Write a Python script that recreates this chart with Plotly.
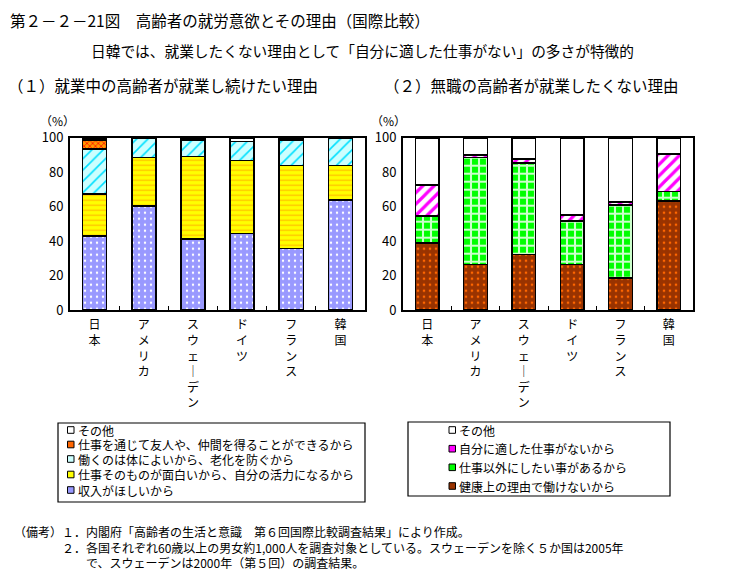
import plotly.graph_objects as go

W, H = 731, 587
OFF = 8  # page body margin offset compensation

# ---------------- data ----------------
countries = ["日本", "アメリカ", "スウェーデン", "ドイツ", "フランス", "韓国"]

# (1) reasons to keep working (bottom -> top)
left_names = [
    "収入がほしいから",
    "仕事そのものが面白いから、自分の活力になるから",
    "働くのは体によいから、老化を防ぐから",
    "仕事を通じて友人や、仲間を得ることができるから",
    "その他",
]
left_income = [43.1, 60.5, 41.2, 44.3, 35.6, 64.0]
left_interest = [24.2, 27.9, 47.8, 42.4, 48.2, 19.8]
left_health = [26.1, 11.6, 9.3, 11.0, 14.8, 16.2]
left_friends = [5.1, 0.0, 0.9, 0.0, 0.8, 0.0]
left_other = [1.5, 0.0, 0.8, 2.3, 0.6, 0.0]

# (2) reasons not to want work (bottom -> top)
right_names = [
    "健康上の理由で働けないから",
    "仕事以外にしたい事があるから",
    "自分に適した仕事がないから",
    "その他",
]
right_health = [38.9, 26.3, 32.1, 26.3, 18.6, 63.1]
right_otherwish = [15.8, 62.1, 53.2, 25.5, 42.3, 5.6]
right_nosuit = [17.8, 1.7, 2.3, 3.3, 1.8, 22.0]
right_other = [27.5, 9.9, 12.4, 44.9, 37.3, 9.3]

y_ticks = [0, 20, 40, 60, 80, 100]

# ---------------- styles ----------------
FONT = "Noto Sans CJK JP"


def pat(bg, shape=None, fg=None, size=8, solidity=0.3):
    if shape is None:
        return dict(color=bg)
    return dict(color=bg, pattern=dict(shape=shape, fgcolor=fg, bgcolor=bg,
                                       fillmode="replace", size=size, solidity=solidity))


left_values = [left_income, left_interest, left_health, left_friends, left_other]
left_styles = [
    pat("#9999FF", ".", "#FFFFFF", 6, 0.12),
    pat("#FFFF00", "-", "#FFC000", 5, 0.25),
    pat("#CCFFFF", "/", "#00E0FF", 8, 0.2),
    pat("#FF9900", "x", "#FF2200", 4, 0.4),
    pat("#FFFFFF"),
]
right_values = [right_health, right_otherwish, right_nosuit, right_other]
right_styles = [
    pat("#993300", ".", "#FF6600", 6, 0.15),
    pat("#00FF00", "+", "#CCFFCC", 8, 0.45),
    pat("#FFFFFF", "/", "#FF00FF", 8, 0.4),
    pat("#FFFFFF"),
]
legend_sym_colors_left = ["#9999FF", "#FFFF00", "#CCFFFF", "#FF6600", "#FFFFFF"]
legend_sym_colors_right = ["#993300", "#00FF00", "#FF00FF", "#FFFFFF"]


def px(x):
    return (x - OFF) / W


def py(y):
    return 1 - (y - OFF) / H


def vert(label):
    return "<br>".join("｜" if ch == "ー" else ch for ch in label)


fig = go.Figure()
for name, vals, st in zip(left_names, left_values, left_styles):
    fig.add_trace(go.Bar(
        x=countries, y=vals, name=name, xaxis="x", yaxis="y",
        marker=dict(line=dict(color="black", width=1.6), **st),
        showlegend=False,
    ))
for name, vals, st in zip(right_names, right_values, right_styles):
    fig.add_trace(go.Bar(
        x=countries, y=vals, name=name, xaxis="x2", yaxis="y2",
        marker=dict(line=dict(color="black", width=1.6), **st),
        showlegend=False,
    ))

ydom = [py(310), py(137.7)]
xaxis_common = dict(
    showline=True, linecolor="black", linewidth=2, mirror=True,
    ticks="inside", tickson="boundaries", ticklen=4, tickcolor="black",
    tickvals=countries, ticktext=[vert(c) for c in countries],
    tickfont=dict(family=FONT, size=12, color="black"), ticklabelstandoff=3,
    showgrid=False, zeroline=False, fixedrange=True, automargin=False,
)
yaxis_common = dict(
    range=[0, 100], tickvals=y_ticks, showline=True, linecolor="black",
    linewidth=2, mirror=True, ticks="", showgrid=False, zeroline=False,
    tickfont=dict(family=FONT, size=13, color="black"), ticklabelstandoff=2,
    automargin=False,
)

fig.update_layout(
    template="none",
    width=W, height=H,
    margin=dict(l=0, r=0, t=0, b=0, pad=0, autoexpand=False),
    paper_bgcolor="white", plot_bgcolor="white",
    barmode="stack", bargap=0.51,
    font=dict(family=FONT, color="black"),
    xaxis=dict(domain=[px(70), px(365)], anchor="y", **xaxis_common),
    yaxis=dict(domain=ydom, anchor="x", **yaxis_common),
    xaxis2=dict(domain=[px(403), px(693)], anchor="y2", **xaxis_common),
    yaxis2=dict(domain=ydom, anchor="x2", **yaxis_common),
    showlegend=False,
)

ann = []


def text(x, y, s, size, xanchor="left"):
    ann.append(dict(x=px(x), y=py(y), xref="paper", yref="paper", text=s,
                    showarrow=False, xanchor=xanchor, yanchor="middle",
                    font=dict(family=FONT, size=size, color="black")))


text(8, 20, "第２－２－21図　高齢者の就労意欲とその理由（国際比較）", 15.5)
text(362, 50, "日韓では、就業したくない理由として「自分に適した仕事がない」の多さが特徴的", 14.7, "center")
text(6, 85, "（１）就業中の高齢者が就業し続けたい理由", 15.5)
text(382, 85, "（２）無職の高齢者が就業したくない理由", 15.5)
text(38, 120, "（%）", 12)
text(369, 120, "（%）", 12)

# legend boxes
shapes = [
    dict(type="rect", xref="paper", yref="paper", x0=px(58), x1=px(365),
         y0=py(502), y1=py(423), line=dict(color="black", width=1.2)),
    dict(type="rect", xref="paper", yref="paper", x0=px(408), x1=px(670),
         y0=py(496), y1=py(422), line=dict(color="black", width=1.2)),
]

left_leg_y = [490, 474.5, 459, 444.5, 430]
for name, col, yy in zip(left_names, legend_sym_colors_left, left_leg_y):
    shapes.append(dict(type="rect", xref="paper", yref="paper",
                       x0=px(67.5), x1=px(74), y0=py(yy + 3.3), y1=py(yy - 3.3),
                       fillcolor=col, line=dict(color="black", width=1)))
    text(76, yy, name, 12)

right_leg_y = [486, 467.3, 448.7, 430]
for name, col, yy in zip(right_names, legend_sym_colors_right, right_leg_y):
    shapes.append(dict(type="rect", xref="paper", yref="paper",
                       x0=px(449), x1=px(455.5), y0=py(yy + 3.3), y1=py(yy - 3.3),
                       fillcolor=col, line=dict(color="black", width=1)))
    text(457, yy, name, 12)

# notes
text(12, 531, "（備考）１．内閣府「高齢者の生活と意識　第６回国際比較調査結果」により作成。", 12)
text(60, 547, "２．各国それぞれ60歳以上の男女約1,000人を調査対象としている。スウェーデンを除く５か国は2005年", 12)
text(84, 562, "で、スウェーデンは2000年（第５回）の調査結果。", 12)

fig.update_layout(annotations=ann, shapes=shapes)
fig.write_html("out.html")
